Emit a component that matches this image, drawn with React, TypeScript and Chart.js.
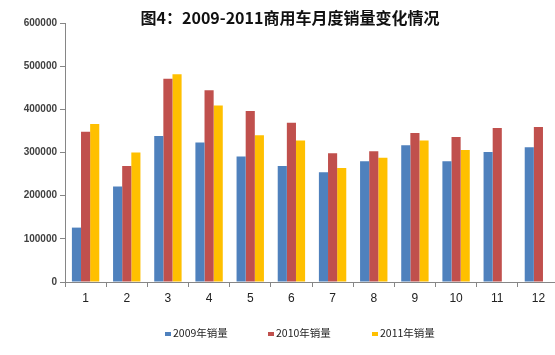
import React, { useEffect, useRef } from "react";
import { Chart, registerables } from "chart.js";

Chart.register(...registerables);

const months = ["1", "2", "3", "4", "5", "6", "7", "8", "9", "10", "11", "12"];
const sales2009 = [126000, 221000, 338000, 323000, 291000, 269000, 254000, 280000, 317000, 280000, 301000, 312000];
const sales2010 = [348000, 269000, 471000, 444000, 396000, 369000, 298000, 303000, 345000, 336000, 357000, 359000];
const sales2011 = [366000, 300000, 481000, 409000, 340000, 328000, 264000, 288000, 328000, 306000, null, null];
const seriesNames = ["2009年销量", "2010年销量", "2011年销量"];
const seriesColors = ["#4F81BD", "#C0504D", "#FFC000"];
const titleText = "图4：2009-2011商用车月度销量变化情况";
const yTicks = [0, 100000, 200000, 300000, 400000, 500000, 600000];

const overlayPlugin = {
  id: "overlay",
  afterDraw(chart: any) {
    const ctx = chart.ctx;
    ctx.save();
    ctx.fillStyle = "#111";
    ctx.font = "bold 16px 'Noto Sans CJK SC'";
    ctx.textAlign = "center";
    ctx.textBaseline = "middle";
    ctx.fillText(titleText, 290, 18);
    // legend
    ctx.font = "10.5px 'Noto Sans CJK SC'";
    ctx.textAlign = "left";
    const starts = [165, 268, 372];
    chart.data.datasets.forEach((ds: any, i: number) => {
      const x = starts[i];
      ctx.fillStyle = ds.backgroundColor;
      ctx.fillRect(x, 332, 6, 4);
      ctx.fillStyle = "#222";
      ctx.fillText(ds.label, x + 8, 333);
    });
    ctx.restore();
  },
};

export default function App() {
  const ref = useRef<HTMLCanvasElement>(null);
  useEffect(() => {
    document.body.style.margin = "0";
    const chart = new Chart(ref.current!, {
      type: "bar",
      data: {
        labels: months,
        datasets: [sales2009, sales2010, sales2011].map((d, i) => ({
          label: seriesNames[i],
          data: d,
          backgroundColor: seriesColors[i],
          borderWidth: 0,
          categoryPercentage: 0.665,
          barPercentage: 1,
        })),
      },
      options: {
        animation: false,
        responsive: false,
        maintainAspectRatio: false,
        layout: { padding: { top: 23, right: 11, left: 0, bottom: 0 } },
        plugins: { legend: { display: false }, title: { display: false }, tooltip: { enabled: false } },
        scales: {
          x: {
            grid: { display: true, drawOnChartArea: false, offset: true, tickLength: 5, color: "#868686" },
            border: { color: "#868686" },
            ticks: { color: "#222", font: { size: 12, family: "'Liberation Sans'" }, padding: 4 },
            afterFit: (s: any) => { s.height = 73; s.paddingLeft = 0; s.paddingRight = 0; },
          },
          y: {
            min: 0,
            max: 600000,
            afterBuildTicks: (s: any) => { s.ticks = yTicks.map((v) => ({ value: v })); },
            grid: { display: true, drawOnChartArea: false, tickLength: 5, color: "#868686" },
            border: { color: "#868686" },
            ticks: {
              color: "#404040",
              font: { size: 10, weight: "bold", family: "'Liberation Sans'" },
              padding: 3,
              callback: (v: any) => String(v),
            },
            afterFit: (s: any) => { s.width = 65; s.paddingTop = 0; s.paddingBottom = 0; },
          },
        },
      },
      plugins: [overlayPlugin],
    });
    return () => chart.destroy();
  }, []);
  return (
    <div style={{ width: 555, height: 355, overflow: "hidden", position: "relative", background: "#fff" }}>
      <canvas ref={ref} width={570} height={355} style={{ display: "block" }} />
    </div>
  );
}
